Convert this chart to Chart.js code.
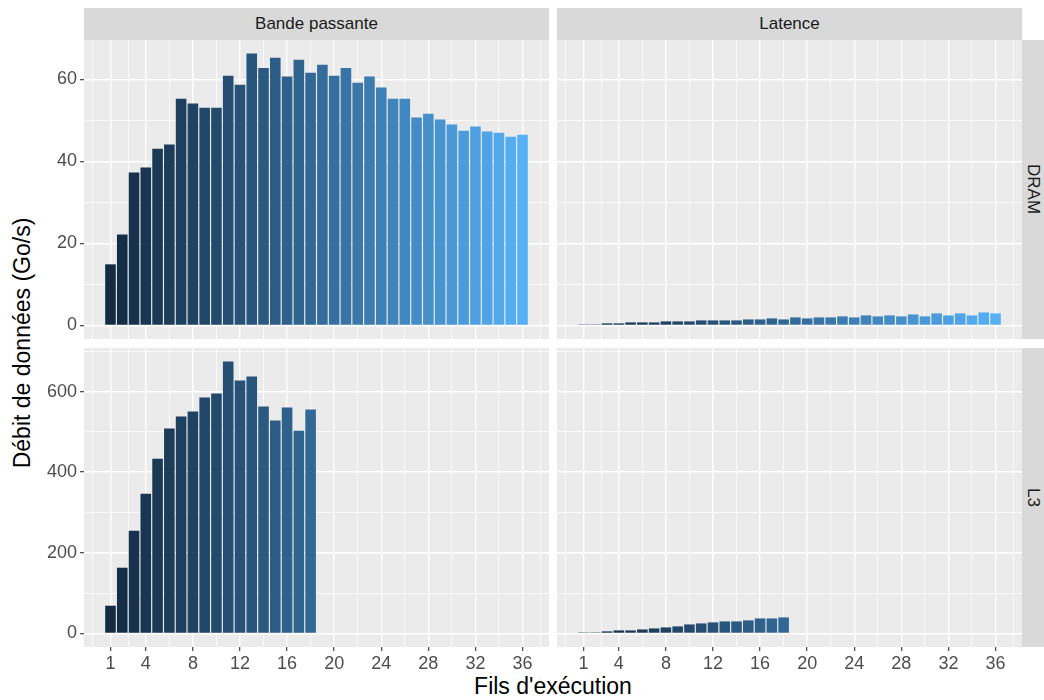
<!DOCTYPE html>
<html><head><meta charset="utf-8">
<script src="https://cdn.jsdelivr.net/npm/chart.js@4/dist/chart.umd.min.js"></script>
<style>
body{margin:0;background:#fff;width:1044px;height:700px;overflow:hidden;font-family:"Liberation Sans",Arial,sans-serif;position:relative;}
canvas{position:absolute;left:0;top:0;}
.strip{position:absolute;background:#D9D9D9;color:#1A1A1A;font-size:17px;display:flex;align-items:center;justify-content:center;}
.vstrip{writing-mode:vertical-rl;}
.title{position:absolute;color:#000;font-size:23px;white-space:nowrap;}
</style></head><body>
<div class="strip" style="left:84px;top:8px;width:465px;height:32px">Bande passante</div>
<div class="strip" style="left:557px;top:8px;width:465px;height:32px">Latence</div>
<div class="strip vstrip" style="left:1022px;top:40px;width:22px;height:299px">DRAM</div>
<div class="strip vstrip" style="left:1022px;top:348px;width:22px;height:299px">L3</div>
<div class="title" id="xt" style="left:553px;top:673px;transform:translateX(-50%)">Fils d'exécution</div>
<div class="title" id="yt" style="left:22px;top:343px;transform:translate(-50%,-50%) rotate(-90deg)">Débit de données (Go/s)</div>
<canvas id="c1" width="1044" height="700"></canvas>
<canvas id="c2" width="1044" height="700"></canvas>
<canvas id="c3" width="1044" height="700"></canvas>
<canvas id="c4" width="1044" height="700"></canvas>
<script>
// ---- data ----
const threadsDRAM = [1,2,3,4,5,6,7,8,9,10,11,12,13,14,15,16,17,18,19,20,21,22,23,24,25,26,27,28,29,30,31,32,33,34,35,36];
const threadsL3 = [1,2,3,4,5,6,7,8,9,10,11,12,13,14,15,16,17,18];
const dramBandwidth = [14.9,22.2,37.3,38.5,43.1,44.1,55.3,54.1,53.1,53.1,60.9,58.7,66.3,62.8,65.3,60.7,64.8,61.6,63.6,60.9,62.8,59.2,60.7,58.0,55.3,55.3,50.7,51.6,50.2,49.0,47.5,48.5,47.3,47.0,46.0,46.5];
const dramLatency = [0.24,0.24,0.49,0.49,0.73,0.73,0.73,0.98,0.98,0.98,1.22,1.22,1.22,1.22,1.46,1.46,1.71,1.46,1.95,1.71,1.95,1.95,2.2,1.95,2.44,2.2,2.44,2.2,2.68,2.2,2.93,2.44,2.93,2.44,3.17,2.93];
const l3Bandwidth = [68.7,163.0,254.9,346.7,433.6,508.1,537.9,550.3,585.1,595.0,674.4,627.3,637.2,562.7,528.0,560.2,503.1,555.3];
const l3Latency = [2.5,2.5,5.0,7.4,7.4,9.9,12.4,14.9,17.4,22.3,24.8,27.3,29.8,29.8,32.3,37.2,37.2,39.7];
const xTickLabels = [1,4,8,12,16,20,24,28,32,36];
const xMinorTicks = [-0.5,2.5,6,10,14,18,22,26,30,34,37.5];
const yTickLabelsDRAM = [0,20,40,60];
const yMinorDRAM = [10,30,50];
const yTickLabelsL3 = [0,200,400,600];
const yMinorL3 = [100,300,500,700];

// ---- colour gradient (ggplot default, Lab interpolation) ----
function hex2rgb(h){return [parseInt(h.slice(1,3),16),parseInt(h.slice(3,5),16),parseInt(h.slice(5,7),16)];}
function toLin(c){c/=255;return c<=0.04045?c/12.92:Math.pow((c+0.055)/1.055,2.4);}
function toS(c){c=c<=0.0031308?12.92*c:1.055*Math.pow(c,1/2.4)-0.055;return Math.round(Math.max(0,Math.min(1,c))*255);}
const Wn=[0.95047,1,1.08883];
function fLab(t){return t>216/24389?Math.cbrt(t):(24389/27*t+16)/116;}
function fInv(f){const f3=f*f*f;return f3>216/24389?f3:(116*f-16)/(24389/27);}
function rgb2lab(rgb){const [r,g,b]=rgb.map(toLin);
 const X=(0.4124564*r+0.3575761*g+0.1804375*b)/Wn[0],Y=(0.2126729*r+0.7151522*g+0.0721750*b)/Wn[1],Z=(0.0193339*r+0.1191920*g+0.9503041*b)/Wn[2];
 const fx=fLab(X),fy=fLab(Y),fz=fLab(Z);return [116*fy-16,500*(fx-fy),200*(fy-fz)];}
function lab2rgb(l){const fy=(l[0]+16)/116,fx=fy+l[1]/500,fz=fy-l[2]/200;
 const X=fInv(fx)*Wn[0],Y=fInv(fy)*Wn[1],Z=fInv(fz)*Wn[2];
 const r=3.2404542*X-1.5371385*Y-0.4985314*Z,g=-0.9692660*X+1.8760108*Y+0.0415560*Z,b=0.0556434*X-0.2040259*Y+1.0572252*Z;
 return 'rgb('+toS(r)+','+toS(g)+','+toS(b)+')';}
const labLo=rgb2lab(hex2rgb('#132B43')),labHi=rgb2lab(hex2rgb('#56B1F7'));
const tMin=Math.min(...threadsDRAM),tMax=Math.max(...threadsDRAM);
function fillFor(x){const t=(x-tMin)/(tMax-tMin);return lab2rgb(labLo.map((v,i)=>v+(labHi[i]-v)*t));}

Chart.defaults.font.family='"Liberation Sans", Arial, sans-serif';
Chart.defaults.font.size=18;
Chart.defaults.color='#4D4D4D';

const bgPlugin={id:'panelBg',beforeDraw(chart){const a=chart.chartArea,c=chart.ctx;c.save();c.fillStyle='#EBEBEB';c.fillRect(a.left,a.top,a.right-a.left,a.bottom-a.top);c.restore();}};

const YW=40, XH=30;
function panel(id,rect,xs,ys,yMajor,yMinor,yMax,showX,showY){
  const yLo=-0.05*yMax,yHi=1.05*yMax;
  const xAll=xTickLabels.concat(xMinorTicks).sort((a,b)=>a-b);
  const yAll=yMajor.concat(yMinor).sort((a,b)=>a-b);
  const isMajX=v=>xTickLabels.includes(v), isMajY=v=>yMajor.includes(v);
  new Chart(document.getElementById(id),{
    type:'bar',
    data:{datasets:[{data:xs.map((x,i)=>({x:x,y:ys[i]})),backgroundColor:xs.map(fillFor),borderWidth:0,barPercentage:0.9,categoryPercentage:1.0}]},
    options:{
      responsive:false,animation:false,devicePixelRatio:1,
      layout:{padding:{left:rect[0]-(showY?YW:0),top:rect[1],right:1044-rect[2],bottom:700-rect[3]-(showX?XH:0)}},
      plugins:{legend:{display:false},tooltip:{enabled:false}},
      scales:{
        x:{type:'linear',min:-1.25,max:38.25,offset:false,
          grid:{offset:false,color:'#FFFFFF',lineWidth:c=>isMajX(c.tick.value)?1.4:0.7,drawTicks:showX,tickLength:4,tickWidth:1.1,tickColor:c=>isMajX(c.tick.value)?'#333333':'rgba(0,0,0,0)'},
          border:{display:false},
          ticks:{display:showX,autoSkip:false,maxRotation:0,padding:2,color:'#4D4D4D',callback:v=>isMajX(v)?String(v):''},
          afterBuildTicks:s=>{s.ticks=xAll.map(v=>({value:v}));},
          afterFit:s=>{s.height=showX?XH:0;}
        },
        y:{type:'linear',min:yLo,max:yHi,
          grid:{color:'#FFFFFF',lineWidth:c=>isMajY(c.tick.value)?1.4:0.7,drawTicks:showY,tickLength:4,tickWidth:1.1,tickColor:c=>isMajY(c.tick.value)?'#333333':'rgba(0,0,0,0)'},
          border:{display:false},
          ticks:{display:showY,autoSkip:false,padding:3,color:'#4D4D4D',callback:v=>isMajY(v)?String(v):''},
          afterBuildTicks:s=>{s.ticks=yAll.map(v=>({value:v}));},
          afterFit:s=>{s.width=showY?YW:0;}
        }
      }
    },
    plugins:[bgPlugin]
  });
}
const maxTop=Math.max(...dramBandwidth,...dramLatency);
const maxBot=Math.max(...l3Bandwidth,...l3Latency);
panel('c1',[84,40,549,339],threadsDRAM,dramBandwidth,yTickLabelsDRAM,yMinorDRAM,maxTop,false,true);
panel('c2',[557,40,1022,339],threadsDRAM,dramLatency,yTickLabelsDRAM,yMinorDRAM,maxTop,false,false);
panel('c3',[84,348,549,647],threadsL3,l3Bandwidth,yTickLabelsL3,yMinorL3,maxBot,true,true);
panel('c4',[557,348,1022,647],threadsL3,l3Latency,yTickLabelsL3,yMinorL3,maxBot,true,false);
</script>
</body></html>
